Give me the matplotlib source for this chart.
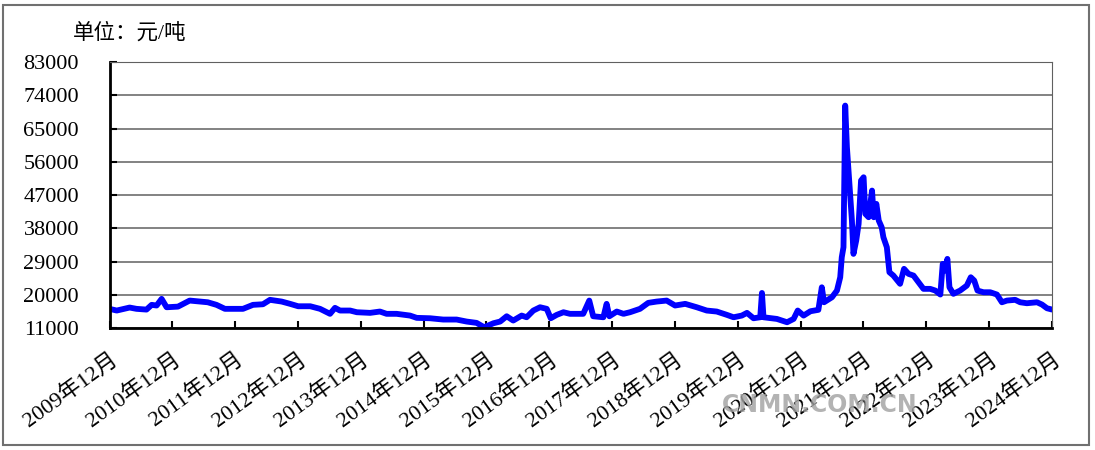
import matplotlib
matplotlib.use('Agg')
import matplotlib.pyplot as plt
import matplotlib.dates as mdates
import pandas as pd

plt.rcParams['font.family'] = ['Liberation Serif', 'Noto Sans CJK SC', 'DejaVu Sans']

# price series (yuan / ton)
dates = [
    '2009-12-01', '2010-01-12', '2010-03-28', '2010-05-07', '2010-07-04', '2010-08-03',
    '2010-09-01', '2010-09-30', '2010-10-29', '2011-01-03', '2011-03-12', '2011-05-09',
    '2011-06-25', '2011-08-15', '2011-10-03', '2011-11-19', '2012-01-16', '2012-03-14',
    '2012-05-11', '2012-06-21', '2012-08-28', '2012-10-16', '2012-12-02', '2013-02-10',
    '2013-04-08', '2013-06-05', '2013-07-04', '2013-08-02', '2013-09-30', '2013-11-08',
    '2014-01-24', '2014-03-22', '2014-04-30', '2014-06-27', '2014-09-13', '2014-10-22',
    '2015-01-08', '2015-03-25', '2015-06-11', '2015-08-08', '2015-10-05', '2015-11-18',
    '2016-01-11', '2016-02-19', '2016-03-28', '2016-05-05', '2016-06-23', '2016-07-22',
    '2016-08-30', '2016-10-08', '2016-11-16', '2016-12-09', '2017-01-13', '2017-02-21',
    '2017-03-31', '2017-06-16', '2017-07-21', '2017-08-13', '2017-10-11', '2017-10-30',
    '2017-11-15', '2017-12-28', '2018-02-05', '2018-03-15', '2018-05-12', '2018-06-29',
    '2018-08-17', '2018-10-14', '2018-12-02', '2019-01-30', '2019-04-07', '2019-06-04',
    '2019-08-01', '2019-09-29', '2019-11-07', '2019-12-25', '2020-01-24', '2020-03-02',
    '2020-04-10', '2020-04-20', '2020-04-29', '2020-07-16', '2020-09-13', '2020-10-21',
    '2020-11-14', '2020-12-18', '2021-01-27', '2021-03-14', '2021-04-03', '2021-04-16',
    '2021-06-01', '2021-06-30', '2021-07-19', '2021-07-28', '2021-08-07', '2021-08-17',
    '2021-08-27', '2021-09-11', '2021-09-25', '2021-10-04', '2021-10-20', '2021-11-03',
    '2021-11-17', '2021-12-02', '2021-12-12', '2021-12-31', '2022-01-20', '2022-01-30',
    '2022-02-14', '2022-02-28', '2022-03-17', '2022-03-27', '2022-04-16', '2022-05-01',
    '2022-05-24', '2022-07-02', '2022-07-25', '2022-08-20', '2022-09-18', '2022-10-17',
    '2022-11-15', '2022-12-24', '2023-01-23', '2023-02-21', '2023-03-07', '2023-03-20',
    '2023-04-03', '2023-04-15', '2023-05-08', '2023-06-16', '2023-07-25', '2023-08-17',
    '2023-09-06', '2023-09-25', '2023-10-30', '2023-12-08', '2024-01-16', '2024-02-14',
    '2024-03-14', '2024-05-01', '2024-05-30', '2024-07-08', '2024-09-05', '2024-10-04',
    '2024-11-02', '2024-12-01',
]
prices = [
    16200, 15740, 16550, 16200, 16000, 17280,
    17100, 18900, 16630, 16800, 18440, 18170,
    17980, 17280, 16200, 16200, 16200, 17280,
    17440, 18640, 18170, 17550, 16900, 16900,
    16200, 14850, 16470, 15740, 15740, 15280,
    15110, 15470, 14850, 14850, 14380, 13760,
    13650, 13300, 13300, 12760, 12400, 11220,
    12300, 12760, 14190, 13030, 14380, 13920,
    15740, 16630, 16200, 13650, 14570, 15280,
    14850, 14850, 18440, 14190, 13920, 17550,
    14190, 15470, 14850, 15280, 16200, 17820,
    18170, 18440, 17100, 17550, 16630, 15740,
    15470, 14570, 13920, 14380, 15110, 13650,
    13920, 20500, 13920, 13470, 12570, 13470,
    15740, 14380, 15550, 15930, 22040, 17980,
    19340, 21150, 24750, 30170, 32880, 71230,
    59940, 49570, 40100, 31080, 34690, 39210,
    50930, 51820, 41910, 41000, 48220, 41000,
    44620, 40100, 38290, 35580, 32880, 26110,
    25210, 22970, 27030, 25670, 25210, 23400,
    21610, 21610, 21150, 20070, 28380, 26560,
    29730, 22040, 20260, 21150, 22500, 24750,
    23860, 21150, 20690, 20690, 20070, 17980,
    18440, 18640, 17980, 17720, 17980, 17360,
    16360, 16010,
]
y_ticks = [11000, 20000, 29000, 38000, 47000, 56000, 65000, 74000, 83000]

x = pd.to_datetime(dates)

fig = plt.figure(figsize=(10.95, 4.5), dpi=100)
ax = fig.add_axes([0.1, 0.271, 0.8607, 0.591])

ax.plot(x, prices, color='#0000FF', linewidth=4.2, solid_joinstyle='round', solid_capstyle='round')

ax.set_ylim(11000, 83000)
ax.set_yticks(y_ticks)
ax.set_xlim(pd.Timestamp('2009-12-01'), pd.Timestamp('2024-12-01'))
ax.xaxis.set_major_locator(mdates.YearLocator(base=1, month=12, day=1))
ax.xaxis.set_major_formatter(mdates.DateFormatter('%Y年%m月'))

ax.grid(axis='y', color='#606060', linewidth=1.1)
ax.set_axisbelow(True)
ax.tick_params(axis='both', direction='in', length=5, width=1.5, colors='black')
ax.tick_params(axis='y', pad=22, labelsize=16)
ax.tick_params(axis='x', pad=15, labelsize=16)
for lbl in ax.get_xticklabels():
    lbl.set_rotation(36)
    lbl.set_ha('right')
    lbl.set_va('top')
    lbl.set_rotation_mode('anchor')

ax.spines['left'].set_linewidth(2)
ax.spines['bottom'].set_linewidth(2)
ax.spines['top'].set_color('#606060')
ax.spines['right'].set_color('#606060')

fig.text(73 / 1095, 1 - 33 / 450, '单位：元/吨', fontsize=15.5, ha='left', va='center')
fig.text(820 / 1095, 1 - 405 / 450, 'CNMN.COM.CN', fontsize=17, fontweight='bold',
         family='DejaVu Sans', color='#a0a0a0', alpha=0.8, ha='center', va='center')

border = plt.Rectangle((3 / 1095, 5 / 450), 1086 / 1095, 440 / 450, transform=fig.transFigure,
                       fill=False, edgecolor='#707070', linewidth=1.5)
fig.patches.append(border)

fig.savefig('out.png', dpi=100)
